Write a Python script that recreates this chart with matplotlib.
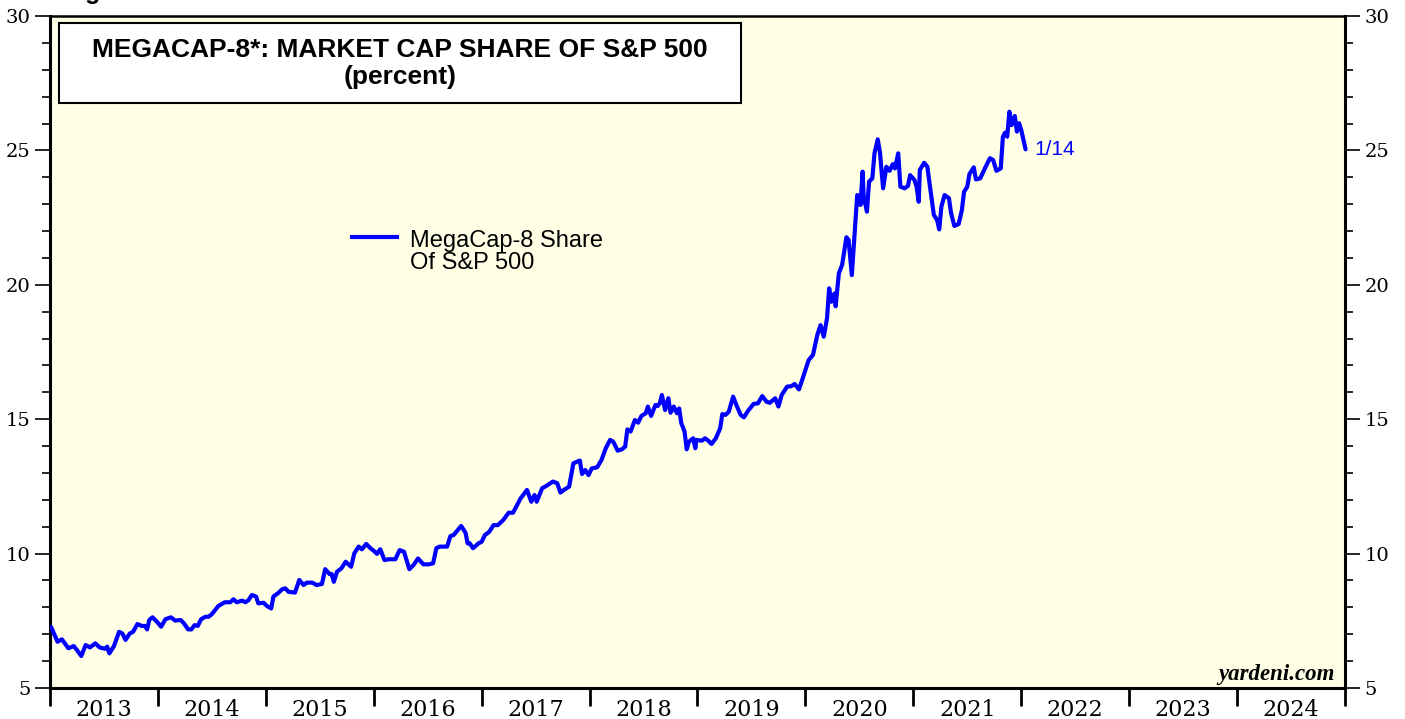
"""MegaCap-8 market cap share of the S&P 500, yardeni-style chart."""

import matplotlib

matplotlib.use("Agg")

import matplotlib.pyplot as plt
from matplotlib.lines import Line2D
from matplotlib.patches import Rectangle
from matplotlib.ticker import MultipleLocator

# ---------------------------------------------------------------- data
# decimal years (weekly-ish samples) and share in percent
years = [
    2013.01, 2013.07, 2013.11, 2013.17, 2013.22, 2013.25, 2013.29, 2013.33,
    2013.37, 2013.42, 2013.46, 2013.51, 2013.53, 2013.55, 2013.59, 2013.60,
    2013.64, 2013.67, 2013.70, 2013.74, 2013.77, 2013.81, 2013.85, 2013.88,
    2013.90, 2013.92, 2013.95, 2013.99, 2014.03, 2014.07, 2014.12, 2014.16,
    2014.21, 2014.24, 2014.28, 2014.31, 2014.34, 2014.37, 2014.40, 2014.44,
    2014.47, 2014.50, 2014.56, 2014.62, 2014.67, 2014.70, 2014.73, 2014.78,
    2014.81, 2014.84, 2014.87, 2014.91, 2014.93, 2014.98, 2015.01, 2015.05,
    2015.07, 2015.12, 2015.15, 2015.18, 2015.21, 2015.27, 2015.31, 2015.35,
    2015.38, 2015.43, 2015.47, 2015.52, 2015.55, 2015.59, 2015.61, 2015.63,
    2015.66, 2015.70, 2015.74, 2015.79, 2015.82, 2015.86, 2015.89, 2015.93,
    2015.97, 2016.01, 2016.03, 2016.06, 2016.10, 2016.14, 2016.20, 2016.24,
    2016.28, 2016.33, 2016.37, 2016.41, 2016.46, 2016.51, 2016.55, 2016.58,
    2016.61, 2016.68, 2016.71, 2016.74, 2016.81, 2016.85, 2016.87, 2016.89,
    2016.92, 2016.97, 2017.00, 2017.03, 2017.07, 2017.11, 2017.15, 2017.20,
    2017.25, 2017.29, 2017.32, 2017.36, 2017.42, 2017.46, 2017.49, 2017.51,
    2017.56, 2017.60, 2017.66, 2017.70, 2017.73, 2017.77, 2017.81, 2017.85,
    2017.91, 2017.93, 2017.96, 2017.99, 2018.02, 2018.07, 2018.11, 2018.15,
    2018.19, 2018.22, 2018.26, 2018.30, 2018.33, 2018.35, 2018.38, 2018.42,
    2018.45, 2018.48, 2018.52, 2018.54, 2018.57, 2018.61, 2018.63, 2018.65,
    2018.67, 2018.70, 2018.73, 2018.75, 2018.78, 2018.81, 2018.83, 2018.85,
    2018.88, 2018.90, 2018.92, 2018.96, 2018.98, 2018.99, 2019.04, 2019.07,
    2019.10, 2019.13, 2019.17, 2019.21, 2019.23, 2019.26, 2019.29, 2019.33,
    2019.36, 2019.40, 2019.43, 2019.47, 2019.52, 2019.56, 2019.60, 2019.64,
    2019.67, 2019.72, 2019.75, 2019.78, 2019.83, 2019.87, 2019.90, 2019.94,
    2019.97, 2020.00, 2020.03, 2020.07, 2020.11, 2020.14, 2020.17, 2020.20,
    2020.22, 2020.24, 2020.27, 2020.28, 2020.31, 2020.34, 2020.38, 2020.40,
    2020.43, 2020.45, 2020.48, 2020.50, 2020.51, 2020.53, 2020.54, 2020.57,
    2020.59, 2020.62, 2020.64, 2020.67, 2020.69, 2020.72, 2020.75, 2020.78,
    2020.81, 2020.83, 2020.86, 2020.88, 2020.92, 2020.95, 2020.97, 2021.01,
    2021.03, 2021.05, 2021.06, 2021.10, 2021.13, 2021.15, 2021.19, 2021.22,
    2021.24, 2021.26, 2021.29, 2021.33, 2021.35, 2021.38, 2021.42, 2021.45,
    2021.47, 2021.50, 2021.52, 2021.56, 2021.58, 2021.62, 2021.67, 2021.71,
    2021.74, 2021.77, 2021.81, 2021.83, 2021.85, 2021.87, 2021.89, 2021.91,
    2021.93, 2021.94, 2021.96, 2021.98, 2022.00, 2022.04,
]
share = [
    7.27, 6.72, 6.81, 6.48, 6.56, 6.41, 6.19, 6.60,
    6.51, 6.66, 6.51, 6.46, 6.54, 6.29, 6.54, 6.64,
    7.09, 7.03, 6.79, 7.03, 7.09, 7.38, 7.31, 7.31,
    7.18, 7.53, 7.63, 7.47, 7.28, 7.56, 7.63, 7.51,
    7.53, 7.41, 7.18, 7.18, 7.34, 7.31, 7.56, 7.65,
    7.65, 7.75, 8.05, 8.19, 8.19, 8.30, 8.19, 8.25,
    8.19, 8.27, 8.46, 8.40, 8.15, 8.17, 8.05, 7.96,
    8.40, 8.55, 8.67, 8.71, 8.58, 8.55, 9.02, 8.83,
    8.92, 8.92, 8.83, 8.87, 9.42, 9.24, 9.24, 8.95,
    9.33, 9.45, 9.70, 9.51, 10.01, 10.26, 10.16, 10.36,
    10.20, 10.07, 9.99, 10.16, 9.76, 9.79, 9.79, 10.13,
    10.07, 9.42, 9.58, 9.82, 9.60, 9.60, 9.64, 10.20,
    10.26, 10.26, 10.65, 10.69, 11.03, 10.78, 10.38, 10.38,
    10.20, 10.38, 10.44, 10.69, 10.81, 11.06, 11.06, 11.25,
    11.52, 11.52, 11.74, 12.05, 12.37, 11.93, 12.18, 11.93,
    12.43, 12.52, 12.68, 12.62, 12.27, 12.39, 12.49, 13.36,
    13.46, 12.96, 13.11, 12.92, 13.17, 13.21, 13.48, 13.92,
    14.23, 14.16, 13.83, 13.88, 13.98, 14.62, 14.54, 14.97,
    14.87, 15.12, 15.22, 15.47, 15.12, 15.53, 15.49, 15.59,
    15.90, 15.34, 15.78, 15.24, 15.47, 15.22, 15.40, 14.85,
    14.54, 13.88, 14.16, 14.29, 13.92, 14.23, 14.20, 14.29,
    14.20, 14.08, 14.29, 14.66, 15.19, 15.16, 15.28, 15.84,
    15.53, 15.16, 15.07, 15.32, 15.57, 15.59, 15.86, 15.65,
    15.61, 15.78, 15.47, 15.90, 16.21, 16.23, 16.31, 16.11,
    16.46, 16.83, 17.20, 17.39, 18.13, 18.50, 18.07, 18.75,
    19.87, 19.37, 19.68, 19.20, 20.43, 20.74, 21.77, 21.67,
    20.36, 21.54, 23.34, 23.28, 22.97, 24.21, 23.28, 22.72,
    23.84, 23.96, 24.89, 25.41, 24.95, 23.59, 24.39, 24.24,
    24.49, 24.33, 24.89, 23.65, 23.59, 23.68, 24.08, 23.90,
    23.65, 23.09, 24.27, 24.54, 24.39, 23.78, 22.60, 22.41,
    22.06, 22.91, 23.34, 23.22, 22.66, 22.19, 22.26, 22.78,
    23.46, 23.65, 24.12, 24.37, 23.92, 23.96, 24.39, 24.71,
    24.64, 24.24, 24.33, 25.51, 25.66, 25.51, 26.44, 25.94,
    26.13, 26.28, 25.70, 26.01, 25.76, 25.04,
]
last_label = "1/14"
year_labels = [str(y) for y in range(2013, 2025)]

# ---------------------------------------------------------------- style
BLUE = "#0000FF"
PLOT_BG = "#FFFFE6"
SERIF = ["DejaVu Serif"]
SANS = ["Liberation Sans", "DejaVu Sans"]

W, H = 1405, 719
fig = plt.figure(figsize=(W / 100, H / 100), dpi=100)
fig.patch.set_facecolor("white")

left, right, top, bottom = 50, 1345, 16, 688
ax = fig.add_axes([left / W, 1 - bottom / H, (right - left) / W, (bottom - top) / H])
ax.set_facecolor(PLOT_BG)

ax.plot(years, share, color=BLUE, lw=3.0, solid_joinstyle="round",
        solid_capstyle="round", zorder=3)

ax.set_xlim(2013, 2025)
ax.set_ylim(5, 30)

# y axis: labels on both sides, minor ticks every 1
ax.yaxis.set_major_locator(MultipleLocator(5))
ax.yaxis.set_minor_locator(MultipleLocator(1))
ax.tick_params(axis="y", which="both", direction="out", left=True, right=True,
               labelleft=True, labelright=True, width=1.2, color="black")
ax.tick_params(axis="y", which="major", length=11, pad=3, labelsize=14)
ax.tick_params(axis="y", which="minor", length=5.5)
for lab in ax.get_yticklabels():
    lab.set_fontfamily(SERIF)

# x axis: year boundaries as ticks, year names centred in between
ax.set_xticks(range(2013, 2026))
ax.set_xticklabels([])
ax.set_xticks([y + 0.5 for y in range(2013, 2025)], minor=True)
ax.set_xticklabels(year_labels, minor=True, fontfamily=SERIF, fontsize=16)
ax.tick_params(axis="x", which="major", direction="out", length=13, width=2)
ax.tick_params(axis="x", which="minor", length=0, pad=8)

for side in ["left", "right", "bottom"]:
    ax.spines[side].set_linewidth(2.2)
ax.spines["top"].set_linewidth(1.8)

# title box
ax.add_patch(Rectangle((0.007, 0.8705), 0.5266, 0.119, transform=ax.transAxes,
                       facecolor="white", edgecolor="black", lw=1.5, zorder=4))
ax.text(0.2703, 0.9494, "MEGACAP-8*: MARKET CAP SHARE OF S&P 500",
        transform=ax.transAxes, ha="center", va="center", fontsize=19,
        fontweight="bold", family=SANS, zorder=5)
ax.text(0.2703, 0.9092, "(percent)", transform=ax.transAxes, ha="center",
        va="center", fontsize=19, fontweight="bold", family=SANS, zorder=5)

# legend sample
ax.add_line(Line2D([0.2332, 0.268], [0.6711, 0.6711], transform=ax.transAxes,
                   color=BLUE, lw=3.0))
ax.text(0.278, 0.6562, "MegaCap-8 Share", transform=ax.transAxes,
        ha="left", va="baseline", fontsize=17, family=SANS)
ax.text(0.278, 0.6235, "Of S&P 500", transform=ax.transAxes,
        ha="left", va="baseline", fontsize=17, family=SANS)

# latest-date label
ax.annotate(last_label, xy=(years[-1], share[-1]), xytext=(6, 0),
            textcoords="offset points", ha="left", va="center",
            color=BLUE, fontsize=15, family=SANS)

ax.text(0.9923, 0.0119, "yardeni.com", transform=ax.transAxes, ha="right",
        va="baseline", fontsize=16.5, fontweight="bold", fontstyle="italic",
        family=["Liberation Serif"])

# chart caption clipped by the top edge of the image
fig.text(63 / W, 1 + 1 / H, "Figure 1.", ha="left", va="baseline",
         fontsize=18, fontweight="bold", family=SANS)

fig.savefig("out.png", dpi=100, facecolor="white")
